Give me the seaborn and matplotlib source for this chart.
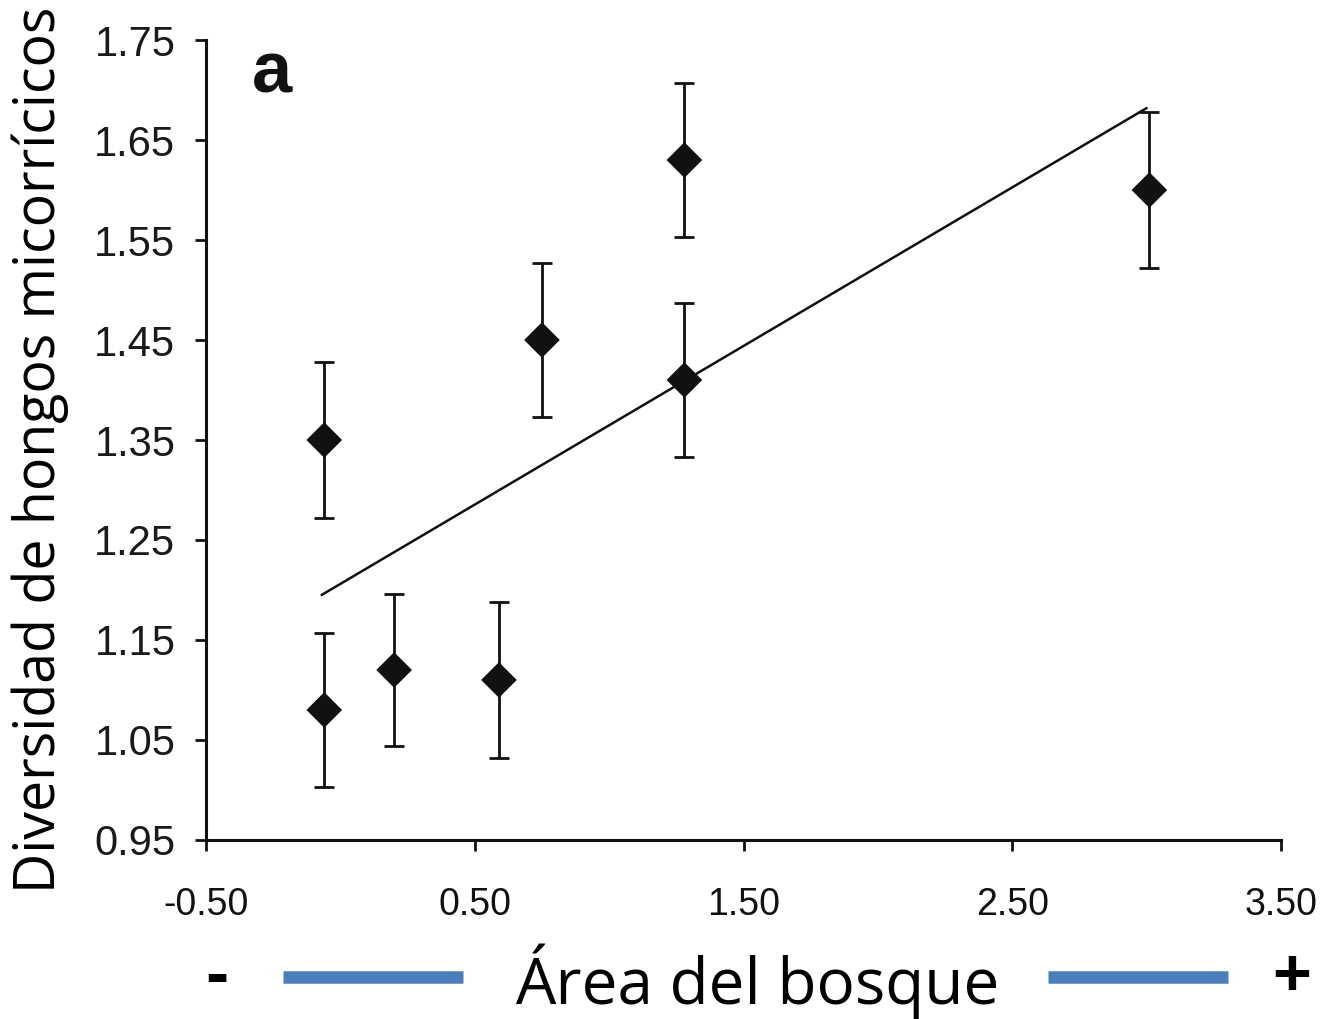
import numpy as np
import pandas as pd
import matplotlib
matplotlib.use("Agg")
import matplotlib.pyplot as plt
import seaborn as sns

# valores
area = [-0.06, -0.06, 0.20, 0.59, 0.75, 1.28, 1.28, 3.01]
diversidad = [1.35, 1.08, 1.12, 1.11, 1.45, 1.63, 1.41, 1.60]
error = [0.078, 0.077, 0.076, 0.078, 0.077, 0.077, 0.077, 0.078]

linea_x = [-0.07, 3.00]
linea_y = [1.195, 1.682]

xticks = [-0.50, 0.50, 1.50, 2.50, 3.50]
yticks = [0.95, 1.05, 1.15, 1.25, 1.35, 1.45, 1.55, 1.65, 1.75]

sns.set_theme(style="white")
plt.rcParams['font.family'] = ['Liberation Sans', 'DejaVu Sans']

df = pd.DataFrame({'area': area, 'div': diversidad, 'err': error})
df_line = pd.DataFrame({'x': linea_x, 'y': linea_y})

fig = plt.figure(figsize=(13.3, 10.19), dpi=100)
ax = fig.add_axes([0.1549, 0.1757, 0.8083, 0.785])

ax.errorbar(df['area'], df['div'], yerr=df['err'], fmt='none', ecolor='#111111',
            elinewidth=2.0, capsize=7, capthick=2.0, zorder=2)
sns.lineplot(data=df_line, x='x', y='y', ax=ax, color='#111111', linewidth=1.8, zorder=1)
sns.scatterplot(data=df, x='area', y='div', ax=ax, marker='D', s=330, color='#111111',
                edgecolor='none', zorder=3)

ax.set_xlim(-0.5, 3.5)
ax.set_ylim(0.95, 1.75)
ax.set_xticks(xticks)
ax.set_yticks(yticks)
ax.set_xticklabels([f"{t:.2f}" for t in xticks], fontsize=27, color='#111111')
ax.set_yticklabels([f"{t:.2f}" for t in yticks], fontsize=30, color='#1a1a1a')
ax.tick_params(axis='both', direction='out', length=8, width=2, color='#111111',
               bottom=True, left=True)
ax.tick_params(axis='x', pad=26)
ax.tick_params(axis='y', pad=14)
for s in ['top', 'right']:
    ax.spines[s].set_visible(False)
for s in ['left', 'bottom']:
    ax.spines[s].set_linewidth(2.2)
    ax.spines[s].set_color('#111111')

ax.set_xlabel('')
ax.set_ylabel('')

fig.text(0.030, 0.559, 'Diversidad de hongos micorrícicos', rotation=90,
         fontsize=40, family=['Open Sans', 'DejaVu Sans'], ha='center', va='center', color='black')
fig.text(0.2045, 0.9097, 'a', fontsize=52, fontweight='bold', ha='center', va='baseline',
         color='#111111')

# leyenda inferior del eje x
fig.text(0.569, 1 - 1004 / 1019, 'Área del bosque', fontsize=46,
         family=['Open Sans', 'DejaVu Sans'], ha='center', va='baseline', color='black')
fig.text(0.163, 1 - 996 / 1019, '-', fontsize=50, fontweight='bold', ha='center',
         va='baseline', color='black')
fig.text(0.9714, 1 - 995 / 1019, '+', fontsize=48, fontweight='bold', ha='center',
         va='baseline', color='black')
fig.add_artist(plt.Line2D([283 / 1330, 463 / 1330], [1 - 977 / 1019] * 2,
                          color='#4a7ebb', linewidth=9, solid_capstyle='butt'))
fig.add_artist(plt.Line2D([1048 / 1330, 1228 / 1330], [1 - 977 / 1019] * 2,
                          color='#4a7ebb', linewidth=9, solid_capstyle='butt'))

fig.savefig('out.png', dpi=100)
